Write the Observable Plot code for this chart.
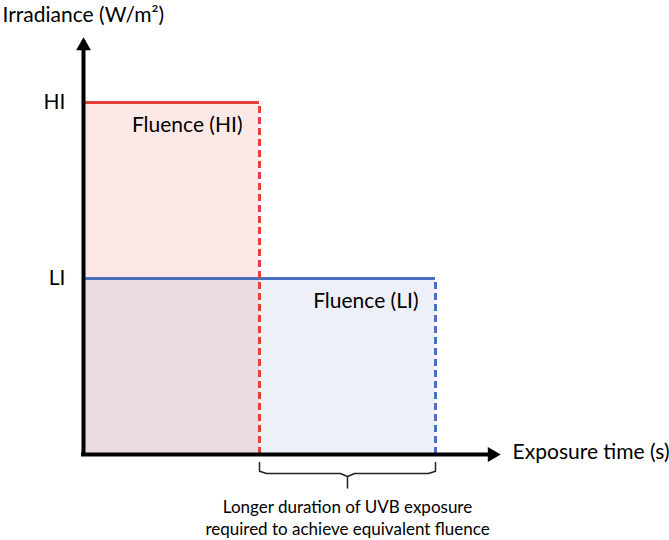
<!DOCTYPE html>
<html><head><meta charset="utf-8">
<script src="https://cdn.jsdelivr.net/npm/d3@7"></script>
<script src="https://cdn.jsdelivr.net/npm/@observablehq/plot@0.6"></script>
<style>body{margin:0;background:#fff} svg{display:block}</style>
</head><body><div id="chart"></div>
<script>
const levels = ["HI", "LI"];
const irradiance = [2, 1];
const exposureTime = [1, 2];
const fluenceLabels = ["Fluence (HI)", "Fluence (LI)"];
const lineColors = ["#e5403a", "#4a6fc1"];
const fillOpacities = [0.12, 0.1];
const yLabel = "Irradiance (W/m²)";
const xLabel = "Exposure time (s)";
const caption = "Longer duration of UVB exposure\nrequired to achieve equivalent fluence";
const axisEnd = 2.37;
const brace = [[0, -0.045], [0, -0.095], [0.04, -0.108], [0.46, -0.108], [0.5, -0.125], [0.5, -0.19], [0.5, -0.125], [0.54, -0.108], [0.96, -0.108], [1, -0.095], [1, -0.045]];

const rows = levels.map((k, i) => ({level: k, irr: irradiance[i], t: exposureTime[i], label: fluenceLabels[i], color: lineColors[i], op: fillOpacities[i]}));
const hi = rows[0], li = rows[1];
const bracePts = brace.map(([f, y]) => ({x: hi.t + f * (li.t - hi.t), y}));

const lineMarks = d => [
  Plot.ruleY([d], {y: "irr", x1: 0, x2: "t", stroke: d.color, strokeWidth: 3}),
  Plot.ruleX([d], {x: "t", y1: 0, y2: "irr", stroke: d.color, strokeWidth: 3, strokeDasharray: "7,4"})
];

const chart = Plot.plot({
  width: 669, height: 540,
  marginLeft: 83, marginRight: 58, marginTop: 14, marginBottom: 86,
  x: {domain: [0, 3], axis: null},
  y: {domain: [0, 2.5]},
  style: {fontFamily: "Lato, 'Open Sans', sans-serif", fontSize: "21px", color: "black", background: "white"},
  marks: [
    Plot.rect([li], {x1: 0, x2: "t", y1: 0, y2: "irr", fill: li.color, fillOpacity: li.op}),
    Plot.rect([hi], {x1: 0, x2: "t", y1: 0, y2: "irr", fill: hi.color, fillOpacity: hi.op}),
    ...lineMarks(li),
    ...lineMarks(hi),
    Plot.text(rows, {x: "t", y: "irr", text: "label", textAnchor: "end", dx: -17, dy: 23, fontSize: 21}),
    Plot.ruleX([0], {y1: 0, y2: axisEnd - 0.03, stroke: "black", strokeWidth: 4, strokeLinecap: "square"}),
    Plot.ruleY([0], {x1: 0, x2: axisEnd - 0.03, stroke: "black", strokeWidth: 4, strokeLinecap: "square"}),
    Plot.dot([{x: 0, y: axisEnd}], {x: "x", y: "y", symbol: "triangle", r: 5.5, fill: "black", dy: 8.5}),
    Plot.dot([{x: axisEnd, y: 0}], {x: "x", y: "y", symbol: "triangle", r: 5.5, fill: "black", rotate: 90, dx: -8.5}),
    Plot.axisY(irradiance, {tickSize: 0, tickPadding: 18, fontSize: 21, tickFormat: v => levels[irradiance.indexOf(v)], label: null}),
    Plot.text([{x: 0, y: 2.5, text: yLabel}], {x: "x", y: "y", text: "text", textAnchor: "start", dx: -81, dy: 1, fontSize: 21}),
    Plot.text([{x: axisEnd, y: 0, text: xLabel}], {x: "x", y: "y", text: "text", textAnchor: "start", dx: 12, dy: -2, fontSize: 21}),
    Plot.line(bracePts, {x: "x", y: "y", stroke: "#222", strokeWidth: 1.5, strokeLinejoin: "round"}),
    Plot.text([{x: (hi.t + li.t) / 2, y: 0, text: caption}], {x: "x", y: "y", text: "text", dy: 62, fontSize: 17, lineHeight: 1.3})
  ]
});
document.getElementById("chart").append(chart);
</script></body></html>
